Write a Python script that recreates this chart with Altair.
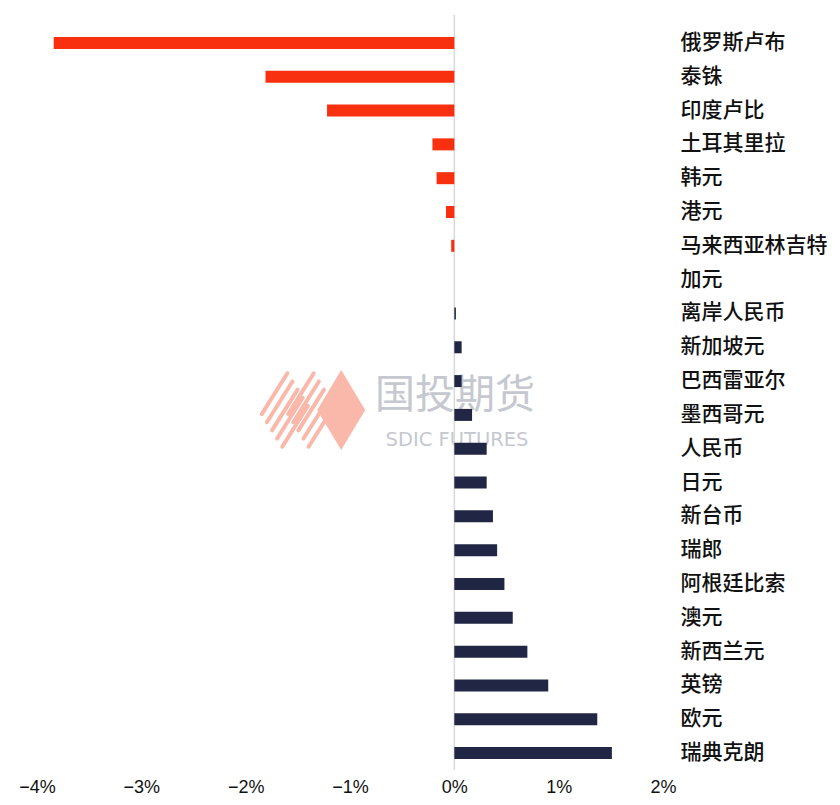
import altair as alt
import pandas as pd

currencies = ["俄罗斯卢布", "泰铢", "印度卢比", "土耳其里拉", "韩元", "港元", "马来西亚林吉特",
              "加元", "离岸人民币", "新加坡元", "巴西雷亚尔", "墨西哥元", "人民币", "日元",
              "新台币", "瑞郎", "阿根廷比索", "澳元", "新西兰元", "英镑", "欧元", "瑞典克朗"]
changes = [-3.84, -1.81, -1.22, -0.21, -0.17, -0.08, -0.03,
           0.0, 0.015, 0.07, 0.07, 0.17, 0.31, 0.31,
           0.37, 0.41, 0.48, 0.56, 0.70, 0.90, 1.37, 1.51]
x_ticks = [-4, -3, -2, -1, 0, 1, 2]

RED = "#F8300F"
NAVY = "#202643"

df = pd.DataFrame({"currency": currencies, "change": changes})

W, H = 626, 744

# watermark logo paths (unit coordinates)
def diamond_stripes(cx, hw=0.64, hh=1.02, n=5):
    segs = []
    for i in range(n):
        t = (i + 0.5) / n
        x1, y1 = cx - hw + hw * t, hh * t
        x2, y2 = cx + hw * t, -hh + hh * t
        segs.append(f"M{x1:.3f},{y1:.3f}L{x2:.3f},{y2:.3f}")
    return "".join(segs)

stripe_path = diamond_stripes(-0.68) + diamond_stripes(-0.02)
solid_path = "M0.73,-1.0L1.33,0L0.73,1.0L0.13,0Z"

wm_base = alt.Chart(pd.DataFrame({"a": [0]}))
logo_stripes = wm_base.mark_point(
    shape=stripe_path, filled=False, stroke="#F9B8AA", strokeWidth=4, size=6400, opacity=1,
    strokeCap="round"
).encode(x=alt.value(275), y=alt.value(384))
logo_solid = wm_base.mark_point(
    shape=solid_path, filled=True, fill="#F9B8AA", strokeWidth=0, size=6400, opacity=1
).encode(x=alt.value(275), y=alt.value(384))
wm_cn = wm_base.mark_text(
    text="国投期货", font="Noto Sans CJK SC", fontSize=40, color="#C6C8D0", align="center", baseline="middle"
).encode(x=alt.value(418), y=alt.value(370))
wm_en = wm_base.mark_text(
    text="SDIC FUTURES", font="DejaVu Sans", fontSize=19.5, color="#C6C8D0", align="center", baseline="middle"
).encode(x=alt.value(420), y=alt.value(414))

bars = alt.Chart(df).mark_bar().encode(
    x=alt.X("change:Q",
            scale=alt.Scale(domain=[-4, 2], nice=False, zero=False),
            axis=alt.Axis(values=x_ticks, grid=False, domain=False, ticks=False, title=None,
                          labelExpr="datum.value < 0 ? '\u2212' + abs(datum.value) + '%' : datum.value + '%'",
                          labelFont="Liberation Sans", labelFontSize=18, labelColor="#111111",
                          labelPadding=8, labelBaseline="top", labelFlush=False)),
    y=alt.Y("currency:N", sort=currencies,
            scale=alt.Scale(paddingInner=0.645, paddingOuter=0.3225),
            axis=alt.Axis(orient="right", title=None, domain=False, ticks=False, grid=False,
                          labelFont="Noto Sans CJK SC", labelFontSize=21, labelFontWeight=500,
                          labelColor="#111111", labelPadding=17, labelAlign="left", labelLimit=0)),
    color=alt.condition(alt.datum.change < 0, alt.value(RED), alt.value(NAVY)),
)

zero_rule = alt.Chart(pd.DataFrame({"z": [0]})).mark_rule(color="#D9D9D9", strokeWidth=1.5).encode(
    x=alt.X("z:Q"), y=alt.value(-11), y2=alt.value(H)
)

chart = alt.layer(logo_stripes, logo_solid, wm_cn, wm_en, zero_rule, bars).properties(
    width=W, height=H,
    background="white",
    autosize=alt.AutoSizeParams(type="none"),
    padding={"left": 29, "top": 18, "right": 169, "bottom": 27},
).configure_view(strokeWidth=0, strokeOpacity=0)

chart.save("out.html", embed_options={"renderer": "svg", "actions": False})
